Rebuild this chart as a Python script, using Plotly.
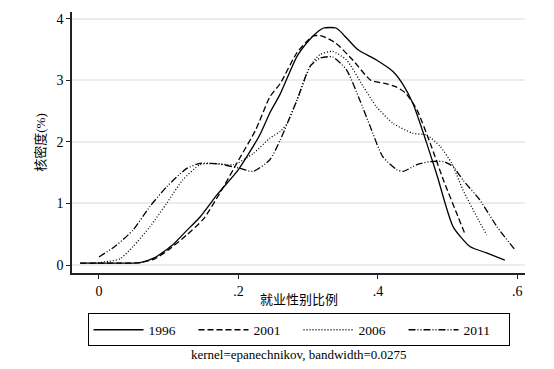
import plotly.graph_objects as go

x1996 = [-0.027, 0.0, 0.03, 0.059, 0.08, 0.106, 0.125, 0.145, 0.17, 0.2, 0.23, 0.245, 0.26, 0.284, 0.302, 0.315, 0.322, 0.34, 0.35, 0.371, 0.398, 0.422, 0.435, 0.45, 0.47, 0.485, 0.508, 0.532, 0.555, 0.582]
y1996 = [0.03, 0.03, 0.03, 0.04, 0.12, 0.33, 0.55, 0.78, 1.15, 1.55, 2.1, 2.47, 2.78, 3.39, 3.66, 3.8, 3.85, 3.85, 3.75, 3.5, 3.33, 3.14, 2.95, 2.63, 1.98, 1.45, 0.62, 0.3, 0.2, 0.08]

x2001 = [-0.027, 0.0, 0.03, 0.06, 0.08, 0.1, 0.125, 0.15, 0.175, 0.2, 0.225, 0.245, 0.26, 0.284, 0.307, 0.32, 0.34, 0.364, 0.39, 0.41, 0.427, 0.44, 0.456, 0.475, 0.494, 0.513, 0.525]
y2001 = [0.03, 0.03, 0.03, 0.04, 0.1, 0.25, 0.48, 0.75, 1.2, 1.7, 2.2, 2.73, 2.95, 3.45, 3.72, 3.72, 3.6, 3.33, 3.0, 2.95, 2.89, 2.79, 2.52, 1.98, 1.38, 0.84, 0.5]

x2006 = [-0.01, 0.0, 0.015, 0.03, 0.049, 0.073, 0.097, 0.12, 0.145, 0.164, 0.193, 0.221, 0.245, 0.26, 0.27, 0.284, 0.303, 0.317, 0.335, 0.355, 0.379, 0.398, 0.422, 0.45, 0.47, 0.489, 0.506, 0.522, 0.542, 0.556]
y2006 = [0.03, 0.04, 0.06, 0.1, 0.3, 0.62, 1.0, 1.38, 1.63, 1.65, 1.63, 1.81, 2.06, 2.17, 2.3, 2.68, 3.23, 3.42, 3.47, 3.33, 2.9, 2.57, 2.3, 2.14, 2.11, 1.93, 1.65, 1.22, 0.78, 0.49]

x2011 = [0.0, 0.025, 0.049, 0.073, 0.097, 0.126, 0.145, 0.173, 0.202, 0.221, 0.245, 0.26, 0.27, 0.284, 0.303, 0.317, 0.335, 0.355, 0.374, 0.389, 0.407, 0.427, 0.436, 0.456, 0.475, 0.494, 0.508, 0.522, 0.546, 0.571, 0.597]
y2011 = [0.13, 0.32, 0.57, 0.95, 1.27, 1.57, 1.65, 1.64, 1.57, 1.52, 1.71, 2.03, 2.3, 2.68, 3.23, 3.36, 3.38, 3.17, 2.68, 2.25, 1.76, 1.55, 1.52, 1.63, 1.68, 1.68, 1.6, 1.38, 1.06, 0.62, 0.24]

series = [
    ("1996", x1996, y1996, "solid"),
    ("2001", x2001, y2001, "6px,3px"),
    ("2006", x2006, y2006, "1px,2px"),
    ("2011", x2011, y2011, "7px,2px,1px,2px,1px,2px"),
]

xtick_vals = [0, 0.2, 0.4, 0.6]
xtick_text = ["0", ".2", ".4", ".6"]
ytick_vals = [0, 1, 2, 3, 4]

FONT = "Liberation Serif, Noto Sans CJK SC"

fig = go.Figure()
for name, xs, ys, dash in series:
    fig.add_trace(go.Scatter(x=xs, y=ys, mode="lines", name=name,
                             line=dict(color="black", width=1.3, dash=dash, shape="spline", smoothing=0.6)))

# plot area: page pixels x 72..525, y 12..273 (page has an 8px body offset)
fig.update_layout(
    width=554, height=369,
    margin=dict(l=64, r=37, t=4, b=104, autoexpand=False),
    paper_bgcolor="white", plot_bgcolor="white",
    font=dict(family=FONT, size=14, color="black"),
    showlegend=True,
    legend=dict(orientation="h", x=0.5, xanchor="center", y=-0.155, yanchor="top",
                bordercolor="black", borderwidth=1, font=dict(size=13.5),
                entrywidth=40, itemwidth=50, tracegroupgap=0),
    xaxis=dict(range=[-0.0387, 0.611], tickvals=xtick_vals, ticktext=xtick_text, automargin=False,
               showgrid=False, zeroline=False, showline=True, linecolor="#222", linewidth=1.5,
               ticks="outside", ticklen=4, tickcolor="#222"),
    yaxis=dict(range=[-0.13, 4.11], tickvals=ytick_vals, automargin=False,
               showgrid=True, gridcolor="#ececec", gridwidth=1.5, zeroline=False,
               showline=True, linecolor="#222", linewidth=1.5,
               ticks="outside", ticklen=4, tickcolor="#222",
               title=dict(text="核密度(%)", font=dict(size=13), standoff=8)),
    annotations=[
        dict(text="就业性别比例", xref="paper", yref="paper",
             x=0.5, y=-0.066, xanchor="center", yanchor="top", showarrow=False,
             font=dict(size=13)),
        dict(text="kernel=epanechnikov, bandwidth=0.0275", xref="paper", yref="paper",
             x=0.5, y=-0.275, xanchor="center", yanchor="top", showarrow=False,
             font=dict(size=13))],
)

fig.write_html("out.html")
